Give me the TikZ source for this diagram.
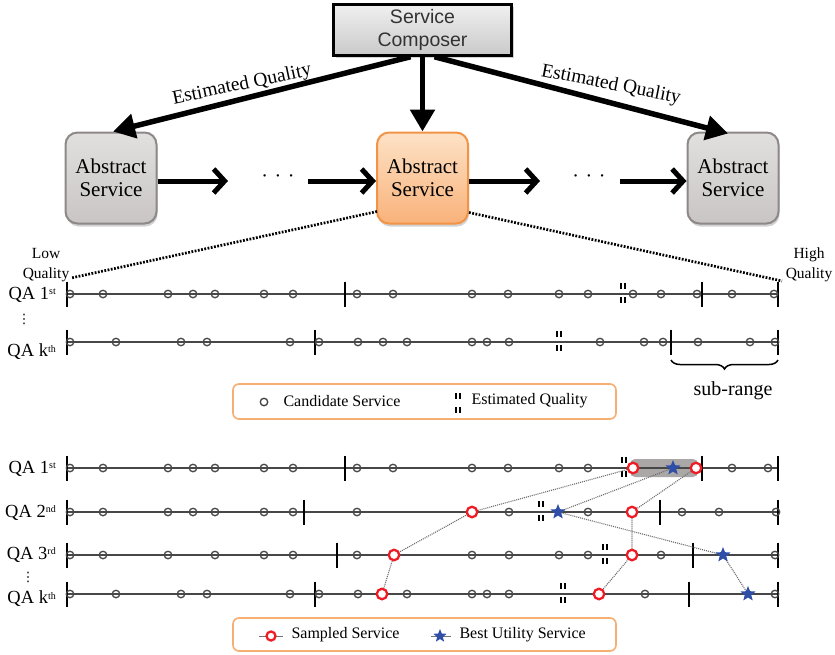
\documentclass[tikz,border=0pt]{standalone}
\usepackage{fontspec}
\setmainfont{Liberation Serif}
\newfontfamily\composerfont{Liberation Sans}
\newfontfamily\symbolfont{DejaVu Sans}
\usetikzlibrary{arrows.meta,shapes.geometric,shadows,decorations.pathreplacing,calc}

\definecolor{grayboxtop}{HTML}{E2DFDF}
\definecolor{grayboxbot}{HTML}{C9C5C5}
\definecolor{grayboxline}{HTML}{8E8888}
\definecolor{orangetop}{HTML}{FDE2C6}
\definecolor{orangebot}{HTML}{F9B27A}
\definecolor{orangeline}{HTML}{F29446}
\definecolor{legendline}{HTML}{F6AE72}
\definecolor{starblue}{HTML}{2F4EA8}
\definecolor{sampred}{HTML}{EE1C24}
\definecolor{hlgray}{HTML}{ABA7A7}

% small ordinal suffix
\newcommand\ordsup[1]{\raisebox{0.55ex}{\fontsize{10}{10}\selectfont #1}}

% estimated-quality marker: two short bar pairs above and below a line
\newcommand\eqmark[2]{%
  \draw[eqbar] (#1-2,#2-11) -- (#1-2,#2-5.5) (#1+2,#2-11) -- (#1+2,#2-5.5)
               (#1-2,#2+3) -- (#1-2,#2+8.5) (#1+2,#2+3) -- (#1+2,#2+8.5);}

% one quality axis: y, candidate positions, tick positions, marker position
\newcommand\qrow[4]{%
  \draw[qline] (67,#1) -- (778,#1);
  \foreach \t in {#3} \draw[qtick] (\t,#1-12.5) -- (\t,#1+12.5);
  \foreach \c in {#2} \node[cand] at (\c,#1) {};
  \eqmark{#4}{#1}}

\begin{document}
\begin{tikzpicture}[x=1pt,y=-1pt,
  composer/.style={draw=black, line width=2.5pt, top color=gray!12, bottom color=gray!42,
    minimum width=178pt, minimum height=51pt, align=center, text=black!80,
    font=\composerfont\fontsize{19.5}{23}\selectfont,
    drop shadow={opacity=0.35, shadow xshift=2pt, shadow yshift=-2pt}},
  absbox/.style={rounded corners=12pt, line width=2pt, minimum width=91pt, minimum height=91pt,
    align=center, font=\fontsize{21}{22.5}\selectfont,
    drop shadow={opacity=0.35, shadow xshift=1pt, shadow yshift=-3pt}},
  absgray/.style={absbox, draw=grayboxline, top color=grayboxtop, bottom color=grayboxbot},
  absorange/.style={absbox, draw=orangeline, top color=orangetop, bottom color=orangebot},
  bigarrow/.style={line width=5.5pt, -{Triangle[length=22pt,width=24pt]}},
  barbarrow/.style={line width=5pt, -{Straight Barb[length=11pt,width=24pt]}},
  eqlabel/.style={font=\fontsize{19.5}{20}\selectfont},
  zoomline/.style={line width=2.7pt, dash pattern=on 1.8pt off 1.5pt},
  qline/.style={line width=1.4pt, black!72},
  qtick/.style={line width=1.5pt, black},
  eqbar/.style={line width=1.8pt, black},
  cand/.style={circle, draw=black!72, line width=1.3pt, inner sep=0pt, minimum size=7.5pt},
  samp/.style={circle, draw=sampred, fill=white, line width=2.3pt, inner sep=0pt, minimum size=10.5pt},
  best/.style={star, star points=5, star point ratio=2.3, fill=starblue, inner sep=0pt, minimum size=16pt},
  link/.style={black!58, line width=1.1pt, dash pattern=on 1pt off 1pt},
  qalabel/.style={anchor=east, inner sep=1pt, font=\fontsize{18.5}{20}\selectfont},
  vdotlabel/.style={inner sep=0pt, font=\symbolfont\fontsize{13}{13}\selectfont},
  legendbox/.style={draw=legendline, line width=1.6pt, rounded corners=6pt, fill=white,
    minimum width=383pt},
  legtext/.style={anchor=west, font=\fontsize{16}{18}\selectfont},
  hl/.style={fill=hlgray, rounded corners=5pt}
]
\useasboundingbox (0,0) rectangle (835,654);
\fill[white] (0,0) rectangle (835,654);

% ---------- composition chain ----------
\node[composer] (comp) at (422.5,30) {Service\\Composer};
\node[absgray] (left) at (111,178) {Abstract\\Service};
\node[absorange] (mid) at (422.5,178) {Abstract\\Service};
\node[absgray] (right) at (733,178) {Abstract\\Service};

\draw[bigarrow] ($(comp.south)+(-12,0)$) -- ($(left.north)+(2,0)$);
\draw[bigarrow] (comp.south) -- (mid.north);
\draw[bigarrow] ($(comp.south)+(12,0)$) -- ($(right.north)+(-5,2)$);

\node[eqlabel, rotate=12] at (242,85) {Estimated Quality};
\node[eqlabel, rotate=-11] at (611,85) {Estimated Quality};

\coordinate (h1) at (228,181);
\coordinate (h2) at (308,181);
\coordinate (h3) at (540,181);
\coordinate (h4) at (620,181);
\draw[barbarrow] (left.east |- h1) -- (h1);
\draw[barbarrow] (h2) -- (mid.west |- h2);
\draw[barbarrow] (mid.east |- h3) -- (h3);
\draw[barbarrow] (h4) -- (right.west |- h4);
\node[font=\fontsize{20}{20}\selectfont] (d1) at (278,179) {·\,\,·\,\,·};
\node[font=\fontsize{20}{20}\selectfont] (d2) at (589,179) {·\,\,·\,\,·};

% ---------- zoomed quality ranges ----------
\node[align=center, font=\fontsize{15.5}{19.5}\selectfont] (low) at (46,265) {Low\\Quality};
\node[align=center, font=\fontsize{15.5}{19.5}\selectfont] (high) at (809,265) {High\\Quality};
\coordinate (lowend) at (71,278);
\coordinate (highend) at (782,281);
\draw[zoomline] ($(mid.south west)+(1,-13)$) -- (lowend);
\draw[zoomline] ($(mid.south east)+(0,-12)$) -- (highend);

\qrow{294}{70,103,168,193,215,264,293,357,393,472,508,559,588,633,661,697,732,774}{67,345,702,778}{623}
\qrow{342}{70,116,181,207,290,319,358,383,407,472,487,509,600,644,663,698,750,775}{67,315,671,778}{559}

\node[qalabel] (qa1) at (57,295) {QA 1\ordsup{st}};
\node[vdotlabel] (vd1) at (24,319) {⋮};
\node[qalabel] (qak) at (57,352) {QA k\ordsup{th}};

\draw[line width=1.5pt, decorate, decoration={brace, amplitude=9pt, mirror}] (671,360) -- (778,360);
\node[font=\fontsize{20}{20}\selectfont] (sub) at (733,391) {sub-range};

\node[legendbox, minimum height=35pt] (leg1) at (424.5,401.5) {};
\node[cand, draw=black!75] (lc) at (264,402) {};
\node[legtext] at (280,401) {Candidate Service};
\eqmark{458}{404}
\node[legtext] at (468,401) {Estimated Quality};

% ---------- sampling across quality axes ----------
\fill[hl] (630,459) rectangle (698,477);
\qrow{468}{70,103,168,193,215,264,293,357,393,472,508,559,588,732,768}{67,345,702,778}{624}
\qrow{512}{70,103,168,193,215,264,293,357,509,588,682,719,776}{67,304,660,778}{541}
\qrow{555}{70,103,168,215,264,293,357,472,509,559,588,661,775}{67,337,693,778}{605}
\qrow{594}{70,116,181,207,290,319,358,407,472,487,509,645,775}{67,315,689,778}{563}

\coordinate (r1a) at (633,468); \coordinate (r1b) at (696,468); \coordinate (b1) at (673,468);
\coordinate (r2a) at (472,512); \coordinate (r2b) at (632,512); \coordinate (b2) at (558,512);
\coordinate (r3a) at (394,555); \coordinate (r3b) at (632,555); \coordinate (b3) at (723,555);
\coordinate (r4a) at (382,594); \coordinate (r4b) at (599,594); \coordinate (b4) at (748,594);

\draw[link] (r1a) -- (r2a) -- (r3a) -- (r4a);
\draw[link] (r1b) -- (r2b) -- (r3b) -- (r4b);
\draw[link] (b1) -- (b2) -- (b3) -- (b4);

\foreach \p in {r1a,r1b,r2a,r2b,r3a,r3b,r4a,r4b} \node[samp] at (\p) {};
\foreach \p in {b1,b2,b3,b4} \node[best] at (\p) {};

\node[qalabel] (qb1) at (57,469) {QA 1\ordsup{st}};
\node[qalabel] (qb2) at (57,513) {QA 2\ordsup{nd}};
\node[qalabel] (qb3) at (57,555) {QA 3\ordsup{rd}};
\node[vdotlabel] (vd2) at (28,577) {⋮};
\node[qalabel] (qbk) at (57,599) {QA k\ordsup{th}};

\node[legendbox, minimum height=33pt] (leg2) at (424.5,634.5) {};
\coordinate (m1a) at (259,636); \coordinate (m1b) at (283,636);
\draw[black!55, line width=1pt] (m1a) -- (m1b);
\node[samp, minimum size=9pt] (lsamp) at (271,636) {};
\node[legtext] at (288,635) {Sampled Service};
\coordinate (m2a) at (431,636); \coordinate (m2b) at (451,636);
\draw[black!55, line width=1pt] (m2a) -- (m2b);
\node[best, minimum size=14pt] (lbest) at (440,636) {};
\node[legtext] at (456,635) {Best Utility Service};
\end{tikzpicture}
\end{document}
